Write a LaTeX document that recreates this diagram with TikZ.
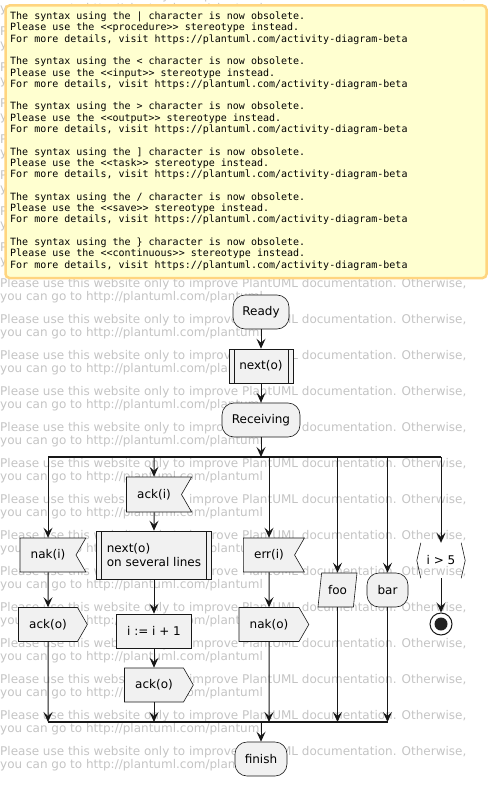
\documentclass[tikz,border=0pt]{standalone}
\usepackage{xcolor}
\usepackage{fontspec}
\setmainfont{DejaVu Sans}
\setmonofont{DejaVu Sans Mono}
\usepackage{tikz}
\usetikzlibrary{positioning, arrows.meta, shapes.symbols, shapes.geometric}

\definecolor{nodefill}{HTML}{F1F1F1}
\definecolor{nodeline}{HTML}{181818}
\definecolor{notefill}{HTML}{FFFFD0}
\definecolor{noteline}{HTML}{FFD57F}
\definecolor{wmgray}{HTML}{C4C4C4}
\definecolor{stopfill}{HTML}{222222}

\tikzset{
  wmark/.style={anchor=base west, inner sep=0pt, text=wmgray, font=\fontsize{12}{14}\selectfont},
  act/.style={rectangle, draw=nodeline, fill=nodefill, line width=0.6pt, inner sep=0pt, minimum height=34pt, font=\fontsize{12}{14}\selectfont},
  roundact/.style={act, rounded corners=12pt},
  procact/.style={act, path picture={
      \draw[nodeline, line width=0.6pt]
        ([xshift=5pt]path picture bounding box.north west) -- ([xshift=5pt]path picture bounding box.south west)
        ([xshift=-5pt]path picture bounding box.north east) -- ([xshift=-5pt]path picture bounding box.south east);}},
  inact/.style={act, signal, signal to=nowhere, signal from=east, signal pointer angle=120, inner xsep=10.7pt},
  outact/.style={act, signal, signal to=east, signal pointer angle=120, inner xsep=10.7pt},
  saveact/.style={act, trapezium, trapezium left angle=77, trapezium right angle=103, trapezium stretches=true},
  flow/.style={draw=nodeline, line width=1pt, -{Stealth[length=10pt, width=9pt, inset=4pt]}},
  syncbar/.style={draw=nodeline, line width=1.5pt},
}

\begin{document}
\begin{tikzpicture}[x=1pt, y=-1pt]
                % Page frame
                \useasboundingbox (0,0) rectangle (491,786);
                % Watermark behind everything
                \foreach \k in {0,...,21} {
                    \node[wmark] (wmtop\k) at (0, {-0.3+36*\k}) {Please use this website only to improve PlantUML documentation. Otherwise,};
                    \node[wmark] (wmbot\k) at (0, {12.7+36*\k}) {you can go to http://plantuml.com/plantuml};
                }
                % Warning note
                \node[rectangle, draw=noteline, fill=notefill, line width=2.5pt, rounded corners=4pt, minimum width=481pt, minimum height=272.5pt, inner sep=0pt] (note) at (246, 141.75) {};
                \node[anchor=north west, inner sep=0pt, align=left, font=\ttfamily\fontsize{10}{11.3}\selectfont] (notetext) at (10, 11.7) {%
                    The syntax using the | character is now obsolete.\\
                    Please use the <<procedure>> stereotype instead.\\
                    For more details, visit https://plantuml.com/activity-diagram-beta\\[11.3pt]
                    The syntax using the < character is now obsolete.\\
                    Please use the <<input>> stereotype instead.\\
                    For more details, visit https://plantuml.com/activity-diagram-beta\\[11.3pt]
                    The syntax using the > character is now obsolete.\\
                    Please use the <<output>> stereotype instead.\\
                    For more details, visit https://plantuml.com/activity-diagram-beta\\[11.3pt]
                    The syntax using the ] character is now obsolete.\\
                    Please use the <<task>> stereotype instead.\\
                    For more details, visit https://plantuml.com/activity-diagram-beta\\[11.3pt]
                    The syntax using the / character is now obsolete.\\
                    Please use the <<save>> stereotype instead.\\
                    For more details, visit https://plantuml.com/activity-diagram-beta\\[11.3pt]
                    The syntax using the \} character is now obsolete.\\
                    Please use the <<continuous>> stereotype instead.\\
                    For more details, visit https://plantuml.com/activity-diagram-beta};
                % Start of the flow
                \node[roundact, minimum width=56pt] (ready) at (261, 312) {Ready};
                \node[procact, minimum width=64pt] (nexto) at (261, 366) {next(o)};
                \node[roundact, minimum width=78pt] (recv) at (261, 420) {Receiving};
                \coordinate (fork) at (261, 457);
                \draw[flow] (ready) -- (nexto);
                \draw[flow] (nexto) -- (recv);
                \draw[flow] (recv) -- (fork);
                % Branch: nak
                \node[inact] (naki) at (48, 555) {nak(i)};
                \node[outact] (acko) at (48, 624.5) {ack(o)};
                % Branch: ack
                \node[inact, minimum height=35pt] (acki) at (154, 494.5) {ack(i)};
                \node[procact, minimum width=115pt, minimum height=48pt, align=left] (nextlines) at (154, 555) {next(o)\\on several lines};
                \node[act, minimum width=75pt] (incr) at (154, 631) {i := i + 1};
                \node[outact] (ackosent) at (154, 685) {ack(o)};
                % Branch: err
                \node[inact] (erri) at (269, 555) {err(i)};
                \node[outact] (nako) at (269, 624.5) {nak(o)};
                % Branches: foo and bar
                \node[saveact, minimum width=39pt] (foo) at (337.5, 590) {foo};
                \node[roundact, minimum width=41pt] (bar) at (387.5, 590) {bar};
                % Branch: condition and stop
                \node[inner sep=0pt, minimum width=48pt, minimum height=35pt, font=\fontsize{12}{14}\selectfont] (cond) at (441, 560.5) {i > 5};
                \draw[nodeline, line width=0.6pt] ([xshift=4pt]cond.north west) -- (cond.west) -- ([xshift=4pt]cond.south west);
                \draw[nodeline, line width=0.6pt] ([xshift=-4pt]cond.north east) -- (cond.east) -- ([xshift=-4pt]cond.south east);
                \node[circle, draw=nodeline, fill=white, line width=1pt, minimum size=22pt, inner sep=0pt] (stop) at (441, 624) {};
                \node[circle, fill=stopfill, minimum size=13pt, inner sep=0pt] (stopdot) at (stop) {};
                % Split bar
                \draw[syncbar] (naki |- fork) -- (cond |- fork);
                \foreach \dest in {naki, acki, erri, foo, bar, cond}
                    \draw[flow] (\dest |- fork) -- (\dest);
                % Inside the branches
                \draw[flow] (naki) -- (acko);
                \draw[flow] (acki) -- (nextlines);
                \draw[flow] (nextlines) -- (incr);
                \draw[flow] (incr) -- (ackosent);
                \draw[flow] (erri) -- (nako);
                \draw[flow] (cond) -- (stop);
                % Join bar and end
                \coordinate (join) at (261, 722);
                \foreach \src in {acko, ackosent, nako, foo, bar}
                    \draw[flow] (\src) -- (\src |- join);
                \draw[syncbar] (acko |- join) -- (bar |- join);
                \node[roundact, minimum width=52pt] (finish) at (261, 759) {finish};
                \draw[flow] (join) -- (finish);
            \end{tikzpicture}
\end{document}
